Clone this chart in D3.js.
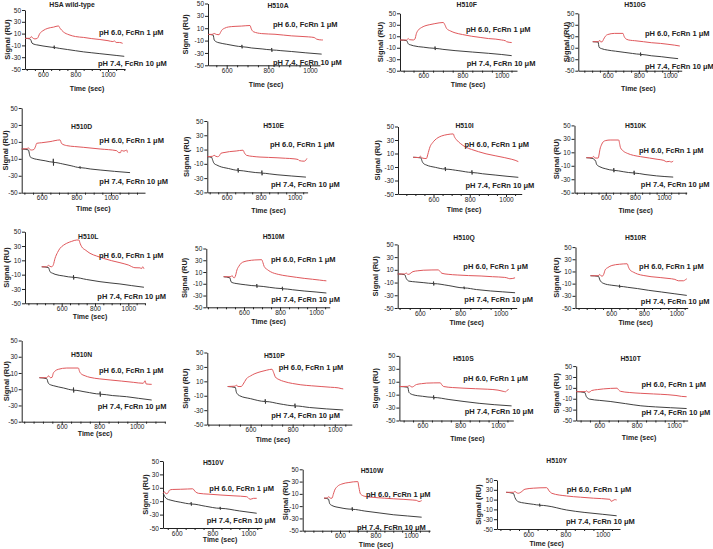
<!DOCTYPE html>
<html><head><meta charset="utf-8">
<script src="https://cdn.jsdelivr.net/npm/d3@7"></script>
<style>body{margin:0;background:#fff}svg text{font-family:"Liberation Sans",Arial,sans-serif}</style>
</head><body><svg id="c" width="713" height="549"></svg>
<script>
const panelNames = ["HSA wild-type","H510A","H510F","H510G","H510D","H510E","H510I","H510K","H510L","H510M","H510Q","H510R","H510N","H510P","H510S","H510T","H510V","H510W","H510Y"];
const xTickValues = [600, 800, 1000];
const yTickValues = [-50, -30, -10, 10, 30, 50];
const acidLabel = "pH 6.0, FcRn 1 \u03bcM";
const neutralLabel = "pH 7.4, FcRn 10 \u03bcM";
const xTitle = "Time (sec)";
const yTitle = "Signal (RU)";

// red curves: pH 6.0, FcRn 1 uM  [time, signal]
const acidSeries = [
 [[490,2],[520,2],[528,5],[535,3],[550,1],[565,2],[580,10],[600,15],[630,19],[665,21],[695,23],[705,19],[725,13],[760,8],[800,5],[850,3.5],[900,1.5],[950,0],[1000,-2],[1030,-3.5],[1040,-2.5],[1050,-5],[1070,-5],[1090,-6.5]],
 [[511,0],[530,0],[540,1.5],[550,0],[563,-0.5],[570,3],[576,6.6],[590,10],[608,12],[640,13],[672,13.5],[712,14.4],[718,9],[728,4.4],[768,1.3],[832,0.2],[912,-2.4],[992,-4],[1020,-5],[1032,-7.7],[1056,-9],[1062,-9]],
 [[481,3.5],[515,3.5],[523,6],[530,4],[549,3.5],[557,5],[565,15],[575,21],[590,25],[608,28],[630,30],[659,32],[702,34],[710,30],[719,23.5],[740,19],[762,16],[800,13],[847,10],[890,8],[932,6],[970,5],[1000,3.5],[1020,2],[1025,0.5],[1051,-1]],
 [[504,0.5],[540,0.5],[548,3],[555,0],[565,0.5],[572,4],[585,10],[600,13],[644,15],[698,15],[705,10],[719,5],[745,3],[773,2.3],[830,0.5],[880,-1.2],[940,-2.5],[987,-4],[1030,-5.5],[1063,-7]],
 [[485,1.6],[515,2],[523,3],[532,1],[540,0.4],[555,1],[565,5],[571,8.3],[600,9],[648,10.3],[706,12.3],[715,8],[744,5.6],[790,4.5],[840,3.6],[937,1.6],[1033,-0.4],[1045,-2.7],[1055,-2.7],[1060,0],[1075,-1],[1090,0.4],[1095,-2.5]],
 [[486,0],[516,0.5],[526,2],[536,0.5],[546,0],[556,1],[566,4.8],[590,6],[616,7.1],[656,8],[696,9.1],[705,5],[716,2],[750,0.5],[796,-0.5],[846,-1],[896,-1.5],[946,-2.2],[996,-3],[1020,-4],[1026,-5.4],[1056,-6.3],[1065,-5],[1072,-2.4]],
 [[488,4.4],[520,4],[528,6],[535,3.5],[561,2.5],[568,8],[575,15],[581,20],[595,26],[608,30],[625,33.5],[645,36],[675,38],[709,39],[715,35],[728,30],[750,24.5],[774,20],[810,16],[848,12.7],[890,9.5],[940,6.7],[990,4],[1032,1.4],[1050,0],[1068,-2]],
 [[466,2],[506,2],[515,4],[525,1.5],[548,1.5],[553,6],[560,14.6],[570,21],[583,25.8],[600,27.5],[630,28.3],[689,28.3],[695,23],[701,17],[720,12],[748,8.5],[790,5.5],[841,3.5],[900,1.5],[959,-0.5],[1000,-2],[1017,-4],[1040,-3.5],[1050,-4.5],[1064,-3]],
 [[480,1],[510,1],[520,3],[530,1.5],[540,1],[550,4],[560,12.8],[575,21],[590,26.8],[610,31],[630,33.8],[660,36.5],[690,38.4],[704,38.4],[710,34],[720,29],[745,24],[770,19.8],[810,16],[850,12.8],[900,9.5],[950,6.7],[1000,3.5],[1040,-0.3],[1070,-0.5],[1080,-1.5],[1086,1],[1094,-1.7]],
 [[487,2],[528,2],[533,4],[540,1],[547,0.3],[552,3],[561,13.6],[572,20],[585,25.2],[600,27.5],[623,29.2],[660,30.5],[698,31],[705,26],[712,19.4],[730,14],[746,10.7],[790,6],[840,3.2],[890,1],[934,-0.8],[980,-2.3],[1019,-3.7],[1040,-4.5],[1057,-5]],
 [[491,3.5],[525,3.5],[533,5],[540,3],[546,3],[556,5],[566,7.2],[590,8.5],[617,9.4],[660,9.8],[692,9.9],[700,7.5],[709,4.6],[740,3],[785,1.9],[840,1],[903,0.3],[960,-0.8],[1020,-1.9],[1030,-2.5],[1045,-4],[1060,-3.5],[1071,-2.5]],
 [[473,3],[520,3],[530,5],[540,2.5],[548,2.6],[555,6],[563,12.6],[580,16.5],[604,19.8],[650,21.8],[698,22.6],[706,17],[715,12.6],[735,9],[761,5.8],[800,3.3],[844,1.4],[900,0],[948,-1.4],[990,-3],[1011,-5.3],[1043,-5.3],[1055,-3.5],[1063,-2]],
 [[481,4.2],[520,4.2],[530,6.5],[540,4.2],[548,4.5],[555,9.6],[565,12.5],[582,14.5],[627,16.1],[689,16.1],[695,12],[701,9.6],[725,6.5],[751,4.6],[800,2.8],[858,1.4],[920,0],[982,-1.5],[1035,-2.7],[1040,-1],[1045,0.5],[1050,-3.5],[1080,-4]],
 [[492,2.8],[528,3.3],[533,5],[540,2.8],[556,2.8],[565,6],[581,13.7],[600,17.5],[621,20.7],[650,23.5],[677,25.5],[702,26.8],[710,22],[718,16],[735,12.5],[758,9.9],[800,7],[839,5.2],[890,3.8],[935,2.8],[980,1.8],[1016,1],[1030,0],[1040,-0.5]],
 [[478,2.6],[520,2.8],[532,4],[540,2.2],[548,2],[558,4],[568,5.7],[595,7],[622,7.9],[660,8.2],[694,8.3],[703,5],[712,2.6],[760,1],[820,0],[880,-0.8],[946,-1.6],[1000,-3],[1027,-4.8],[1040,-5.5],[1050,-3],[1056,-2]],
 [[476,3.1],[525,3.1],[532,4.5],[540,2],[550,2.5],[558,5],[590,6.8],[622,8.1],[660,9],[695,9.4],[704,6],[713,3.7],[760,1.5],[822,0],[890,-1.2],[967,-2.6],[1010,-4],[1040,-5.7],[1067,-6.3]],
 [[525,1.8],[532,4],[540,1],[550,2],[560,6.5],[575,7.5],[620,7.8],[660,8.2],[689,8.5],[705,4],[721,1.8],[780,0.5],[842,-0.7],[920,-2],[991,-3.3],[1000,-5],[1010,-7.2],[1030,-5.7],[1047,-5.7]],
 [[510,3],[530,3.5],[536,5.5],[545,3],[555,3],[562,9],[570,16],[585,22],[610,26],[650,28.5],[700,30],[707,20],[715,10],[740,6],[780,4.5],[850,3],[900,2],[960,1],[1010,0],[1030,-0.5],[1045,-2.5],[1060,-1]],
 [[481,24.9],[520,24.9],[528,26.5],[538,23.9],[546,22.9],[560,25.1],[582,31.2],[627,33.3],[699,34.3],[712,27.8],[726,22.9],[806,17.4],[880,14.9],[950,12.9],[1039,10.6],[1045,6.6],[1055,8],[1065,10],[1075,9.2]]
];

// black curves: pH 7.4, FcRn 10 uM  [time, signal]
const neutralSeries = [
 [[490,2],[520,1],[527,-2],[532,-6],[545,-8],[560,-9],[600,-11],[650,-13],[668,-13.5],[669,-10.5],[670,-16],[671,-13.7],[700,-15],[750,-17],[800,-19],[850,-21],[900,-22.5],[950,-24],[1000,-25.5],[1050,-27],[1100,-28.5]],
 [[511,0],[535,-1],[540,-9],[550,-12],[563,-13.5],[600,-16],[640,-18.5],[672,-19.8],[673,-17],[674,-22.5],[675,-20],[720,-22],[770,-23.5],[815,-25],[816,-22],[817,-28],[818,-25.2],[860,-26.3],[912,-27.7],[980,-29.8],[1056,-31.9]],
 [[481,3.5],[516,2.3],[520,-1],[526,-4],[535,-5],[549,-6.5],[600,-9],[659,-11],[660,-8],[661,-14],[662,-11.2],[700,-12.8],[762,-15],[850,-17.5],[932,-19.7],[1000,-21.8],[1051,-23.8]],
 [[504,0.5],[538,0],[545,-9.3],[560,-11.5],[598,-14],[650,-16],[705,-18],[760,-20],[810,-21.4],[811,-18.5],[812,-24.5],[813,-21.6],[880,-24],[944,-25.6],[1000,-27.5],[1052,-29]],
 [[485,1.6],[523,0.5],[533,-7.5],[550,-9.5],[571,-10.6],[620,-12.3],[666,-14],[667,-10],[668,-18],[669,-14.2],[720,-16],[770,-18.2],[820,-20.3],[821,-19],[822,-21.5],[823,-20.4],[880,-22],[937,-23.2],[1020,-24.8],[1110,-26.3]],
 [[486,0],[512,-1],[516,-3.8],[526,-9.5],[540,-11.5],[556,-13.3],[610,-16.5],[666,-19],[667,-16],[668,-22],[669,-19.2],[730,-21],[806,-22.8],[807,-19.5],[808,-26],[809,-23],[850,-24],[896,-25.3],[980,-27],[1066,-28.6]],
 [[488,4.4],[530,3.5],[538,-2],[544,-4.6],[560,-7],[610,-10.5],[664,-13],[665,-10],[666,-16],[667,-13.2],[740,-15.5],[811,-18],[812,-15],[813,-21],[814,-18.2],[870,-20],[940,-21.9],[1000,-23.6],[1068,-25.3]],
 [[466,2],[506,1],[530,-3],[537,-8],[560,-11.6],[600,-14.5],[654,-16.7],[655,-13.5],[656,-19.5],[657,-16.8],[720,-18.8],[794,-20.7],[795,-17.5],[796,-23.5],[797,-20.8],[870,-23],[950,-25],[1064,-26.8]],
 [[480,1],[520,0],[530,-5.9],[545,-8],[560,-9.5],[610,-11.8],[670,-13.7],[671,-10.7],[672,-16.7],[673,-13.8],[750,-16.8],[830,-19.8],[890,-21.5],[950,-23],[1020,-25.3],[1094,-27.6]],
 [[487,2],[522,0],[528,-6.6],[540,-8.5],[556,-9.5],[610,-11.8],[670,-13.6],[671,-10.5],[672,-16.5],[673,-13.7],[740,-16],[812,-18.2],[813,-15.2],[814,-21.2],[815,-18.4],[870,-20.2],[934,-22.3],[1000,-24],[1057,-25.7]],
 [[491,3.5],[525,2.5],[533,-3.5],[546,-7.7],[580,-9],[620,-10.2],[667,-11.5],[668,-8.5],[669,-14.5],[670,-11.7],[740,-14.6],[818,-18.4],[819,-16.5],[820,-20.3],[821,-18.5],[880,-21],[950,-23.2],[1010,-24.6],[1071,-26]],
 [[473,3],[522,2],[531,-4.2],[540,-7.5],[555,-9.8],[600,-12.5],[636,-13.7],[650,-14.3],[651,-12],[652,-16.5],[653,-14.4],[700,-16],[761,-18.1],[830,-21],[907,-23.7],[990,-26.7],[1063,-29.3]],
 [[481,4.2],[520,3],[529,-2.7],[540,-4.5],[555,-5.6],[610,-8.5],[662,-11],[663,-8],[664,-14],[665,-11.2],[730,-13.5],[804,-15.9],[805,-13],[806,-19],[807,-16.1],[870,-17.8],[946,-19.2],[1010,-21.2],[1080,-23.3]],
 [[492,2.8],[528,1.5],[533,-5.2],[548,-9.9],[600,-14],[669,-17.9],[670,-14.9],[671,-20.9],[672,-18],[740,-21.3],[810,-24],[811,-21],[812,-27],[813,-24.1],[880,-26.3],[960,-28.2],[1040,-29.7]],
 [[478,2.6],[522,1.5],[528,-6.4],[548,-10],[600,-12.5],[658,-14.2],[659,-11.2],[660,-17.2],[661,-14.4],[740,-17.5],[820,-20.6],[900,-23.4],[980,-25.5],[1072,-27.4]],
 [[476,3.1],[522,1.5],[531,-6.3],[548,-10.7],[600,-13],[658,-15],[740,-19],[822,-23],[900,-25],[980,-26.5],[1067,-28]],
 [[525,1.8],[533,-3],[545,-6.5],[563,-8.2],[620,-11.5],[680,-14],[681,-11.5],[682,-16.5],[683,-14.2],[760,-17.5],[842,-20.6],[843,-18.5],[844,-22.5],[845,-20.7],[950,-24.5],[1047,-28]],
 [[510,3],[535,1.5],[542,-6],[555,-9],[600,-12.5],[668,-15],[669,-12],[670,-18],[671,-15.2],[740,-18],[820,-21],[900,-24],[980,-26],[1060,-28]],
 [[481,24.9],[520,22.7],[528,14.3],[546,5.7],[580,2.9],[627,0.4],[660,-1.2],[661,1.5],[662,-4],[663,-1.5],[700,-2.8],[806,-11.2],[900,-16.1],[1000,-20],[1075,-23]]
];

// panel placement (pixels)
const layout = [
 {ax:25,x600:43,x1000:108,xEnd:125,y50:10,ym50:69,title:[72,5],l1:[99,32],l2:[98,63],time:[87,89],sig:7},
 {ax:208,x600:226.7,x1000:310,xEnd:320,y50:3.5,ym50:65.3,title:[278,6],l1:[273,24],l2:[273,62],time:[266,85],sig:185},
 {ax:400,x600:423.3,x1000:501.7,xEnd:517,y50:13.3,ym50:70.7,title:[466.7,5],l1:[466,29],l2:[466.7,63.3],time:[468,85],sig:380},
 {ax:578.3,x600:607.7,x1000:670,xEnd:681.7,y50:13.3,ym50:70.7,title:[635,5],l1:[645,33.3],l2:[645,66.7],time:[638.3,88.3],sig:566},
 {ax:21.7,x600:41.7,x1000:111,xEnd:145,y50:108,ym50:192.7,title:[81.7,126.7],l1:[99.3,140.7],l2:[99.3,181.7],time:[93.3,209],sig:5},
 {ax:207.3,x600:226.7,x1000:294.7,xEnd:307.6,y50:121,ym50:192.4,title:[273.6,125.4],l1:[270,144.8],l2:[271,184],time:[268.5,211],sig:186},
 {ax:398,x600:433.5,x1000:506,xEnd:521.7,y50:126.5,ym50:194,title:[464.5,125.7],l1:[464.5,144],l2:[465.5,185],time:[464,209.5],sig:377},
 {ax:574.5,x600:605.8,x1000:663.9,xEnd:686.7,y50:125.4,ym50:192.7,title:[635.7,126],l1:[639,150],l2:[640.8,184],time:[635.7,211],sig:556},
 {ax:25,x600:61.7,x1000:128.3,xEnd:145,y50:231.7,ym50:303.3,title:[88.3,236.7],l1:[99,255],l2:[97.3,296.7],time:[90,316.7],sig:6.7},
 {ax:206.3,x600:244,x1000:316.1,xEnd:329.7,y50:248.5,ym50:307.3,title:[273.6,237],l1:[270.9,259.7],l2:[271.2,299.5],time:[268.5,321.9],sig:184.5},
 {ax:397.7,x600:419.8,x1000:500.7,xEnd:516.7,y50:244.4,ym50:308,title:[464,237.6],l1:[463.3,266.5],l2:[464.3,299.5],time:[466.7,322.6],sig:375.6},
 {ax:575.5,x600:611.2,x1000:676.5,xEnd:687.7,y50:247.1,ym50:308,title:[635.7,237.6],l1:[639.1,266.5],l2:[640.8,301.5],time:[635.7,322.6],sig:556.5},
 {ax:21.7,x600:61.7,x1000:136.7,xEnd:165,y50:340.5,ym50:421.7,title:[81.7,355],l1:[99,370],l2:[97.7,406.7],time:[95,433.3],sig:6.7},
 {ax:207.3,x600:250.5,x1000:334.8,xEnd:351.8,y50:352.5,ym50:424.6,title:[274.3,355.9],l1:[278.7,367.8],l2:[271.2,415.4],time:[272.9,439.9],sig:185.2},
 {ax:399.4,x600:422.5,x1000:498,xEnd:513.3,y50:355.9,ym50:420.5,title:[463.3,358.3],l1:[463.3,378.7],l2:[464.7,411.7],time:[467.4,438.9],sig:375.6},
 {ax:576.2,x600:599.3,x1000:674.1,xEnd:687.7,y50:366.1,ym50:420.5,title:[630.6,358.3],l1:[641.5,384.5],l2:[641.5,412.7],time:[639.1,437.5],sig:556.5},
 {ax:163,x600:176.7,x1000:248.3,xEnd:262,y50:461,ym50:528,title:[213.3,462.7],l1:[209.3,488.3],l2:[206.7,520],time:[220,540],sig:145},
 {ax:302.7,x600:340,x1000:411,xEnd:430,y50:469.3,ym50:530.7,title:[372,471],l1:[366,494],l2:[357,527],time:[376,545],sig:285},
 {ax:497,x600:528.3,x1000:602.7,xEnd:620,y50:480,ym50:529,title:[556.7,460.7],l1:[566.7,489.3],l2:[566,521],time:[546.7,544],sig:478}
];

const svg = d3.select("#c");
const ink = "#222";
panelNames.forEach((name, i) => {
  const L = layout[i];
  const xs = d3.scaleLinear().domain([600, 1000]).range([L.x600, L.x1000]);
  const ys = d3.scaleLinear().domain([-50, 50]).range([L.ym50, L.y50]);
  const t0 = xs.invert(L.ax), t1 = xs.invert(L.xEnd);
  const xa = d3.scaleLinear().domain([t0, t1]).range([L.ax, L.xEnd]);
  const g = svg.append("g");
  const minor = d3.range(Math.ceil(t0 / 50) * 50, t1, 50);
  const xg = g.append("g").attr("transform", `translate(0,${L.ym50})`)
    .call(d3.axisBottom(xa).tickValues(minor).tickSize(2).tickSizeOuter(0).tickPadding(1)
      .tickFormat(d => xTickValues.includes(d) ? String(d) : ""));
  xg.selectAll(".tick line").attr("y2", d => xTickValues.includes(d) ? 3 : 2);
  const yg = g.append("g").attr("transform", `translate(${L.ax},0)`)
    .call(d3.axisLeft(ys).tickValues(yTickValues).tickSize(3).tickSizeOuter(0).tickPadding(1)
      .tickFormat(d => String(d)));
  [xg, yg].forEach(a => {
    a.select(".domain").attr("stroke", ink).attr("stroke-width", 1);
    a.selectAll(".tick line").attr("stroke", ink);
    a.selectAll("text").attr("font-size", "6.5px").attr("fill", ink)
      .attr("font-family", '"Liberation Sans",Arial,sans-serif');
  });
  const line = d3.line().x(d => xs(d[0])).y(d => ys(d[1])).curve(d3.curveMonotoneX);
  g.append("path").datum(neutralSeries[i]).attr("d", line)
    .attr("fill", "none").attr("stroke", "#2a2a2a").attr("stroke-width", 0.9);
  g.append("path").datum(acidSeries[i]).attr("d", line)
    .attr("fill", "none").attr("stroke", "#e0585c").attr("stroke-width", 1);
  const txt = (x, y, s, size, anchor) => g.append("text").attr("x", x).attr("y", y)
    .attr("dy", "0.35em").attr("text-anchor", anchor).attr("font-size", size)
    .attr("font-weight", "bold").attr("fill", ink).text(s);
  txt(L.title[0], L.title[1], name, "6.8px", "middle");
  txt(L.l1[0], L.l1[1], acidLabel, "7.5px", "start");
  txt(L.l2[0], L.l2[1], neutralLabel, "7.5px", "start");
  txt(L.time[0], L.time[1], xTitle, "7px", "middle");
  g.append("text").attr("transform", `translate(${L.sig},${(L.y50 + L.ym50) / 2}) rotate(-90)`)
    .attr("dy", "0.35em").attr("text-anchor", "middle").attr("font-size", "7.5px")
    .attr("font-weight", "bold").attr("fill", ink).text(yTitle);
});
</script></body></html>
